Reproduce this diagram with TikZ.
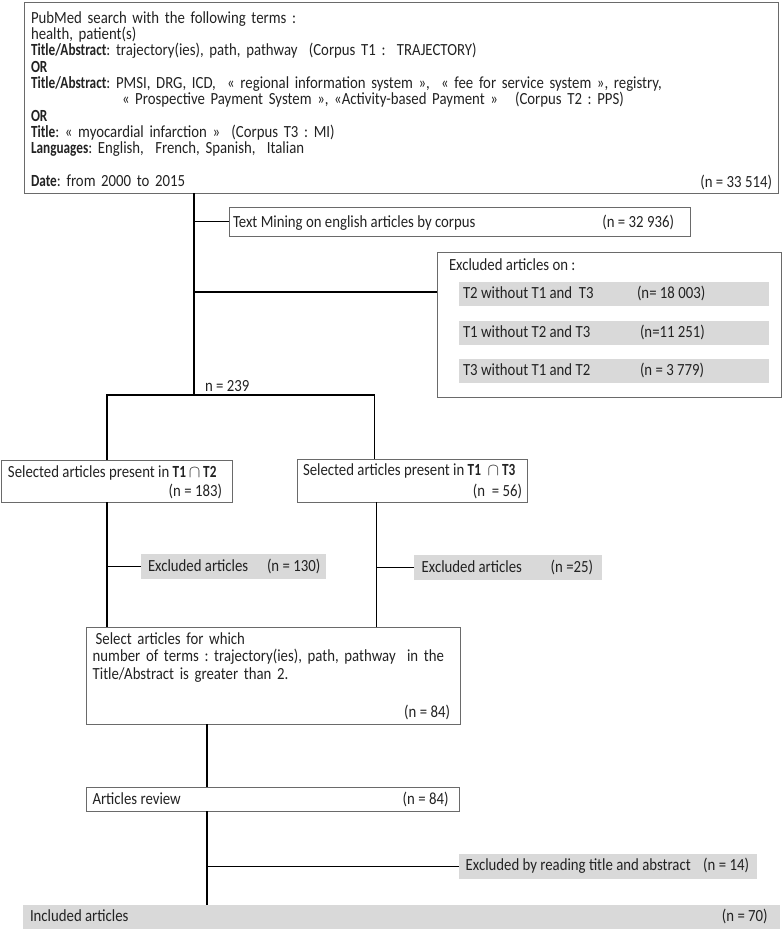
\documentclass[tikz,border=0pt]{standalone}
\usepackage{fontspec}
\setmainfont{Carlito}[FakeStretch=0.87, BoldFeatures={FakeStretch=0.78}]
\definecolor{bordergray}{HTML}{6A6A6A}
\definecolor{bargray}{HTML}{D9D9D9}
\definecolor{ink}{HTML}{222222}
\newcommand{\fs}{\fontsize{17}{16.35}\selectfont\frenchspacing}
\begin{document}
\begin{tikzpicture}[x=1pt,y=-1pt,
  box/.style={draw=bordergray, line width=0.9pt, inner sep=0pt, outer sep=0pt, anchor=north west},
  bar/.style={fill=bargray, inner sep=0pt, outer sep=0pt, anchor=north west},
  lt/.style={inner sep=0pt, outer sep=0pt, anchor=base west, font=\fs, text=ink},
  rt/.style={inner sep=0pt, outer sep=0pt, anchor=base east, font=\fs, text=ink},
  conn/.style={line width=1.3pt, draw=black}]
\useasboundingbox (0,0) rectangle (784,932);

% top search box
\node[box, minimum width=754, minimum height=191] (top) at (24,2) {};
\node[lt, text width=740pt, align=left] (toptxt) at (31,23) {PubMed search with the following terms :\\
health, patient(s)\\
\textbf{Title/Abstract}: trajectory(ies), path, pathway~ (Corpus T1 :~ TRAJECTORY)\\
\textbf{OR}\\
\textbf{Title/Abstract}: PMSI, DRG, ICD,~ « regional information system »,~ « fee for service system », registry,\\
\hspace*{91pt}« Prospective Payment System », «Activity-based Payment »~~ (Corpus T2 : PPS)\\
\textbf{OR}\\
\textbf{Title}: « myocardial infarction »~ (Corpus T3 : MI)\\
\textbf{Languages}: English,~ French, Spanish,~ Italian\\
\mbox{}\\
\textbf{Date}: from 2000 to 2015};
\node[rt] (topn) at (772,187) {(n = 33 514)};

% text mining
\node[box, minimum width=461, minimum height=29] (tm) at (229,207) {};
\node[lt] (tmt) at (233,227.5) {Text Mining on english articles by corpus};
\node[rt] (tmn) at (674,227.5) {(n = 32 936)};

% excluded articles on
\node[box, minimum width=344, minimum height=145] (ex) at (437,252) {};
\node[lt] (ext) at (449,270.5) {Excluded articles on :};
\node[bar, minimum width=310, minimum height=24] (ex1) at (459,282) {};
\node[lt] (ex1t) at (463,298.5) {T2 without T1 and~ T3};
\node[lt] (ex1n) at (637,298.5) {(n= 18 003)};
\node[bar, minimum width=310, minimum height=24] (ex2) at (459,321) {};
\node[lt] (ex2t) at (463,337.5) {T1 without T2 and T3};
\node[lt] (ex2n) at (640,337.5) {(n=11 251)};
\node[bar, minimum width=310, minimum height=24] (ex3) at (459,358.5) {};
\node[lt] (ex3t) at (463,375) {T3 without T1 and T2};
\node[lt] (ex3n) at (640,375) {(n = 3 779)};

\node[lt] (n239) at (205,391) {n = 239};

% selected boxes
\node[box, minimum width=231, minimum height=42] (s12) at (1,460) {};
\node[lt] (s12t) at (8,477.5) {Selected articles present in \textbf{T1}\,$\cap$\,\textbf{T2}};
\node[rt] (s12n) at (222,496.5) {(n = 183)};
\node[box, minimum width=230, minimum height=43] (s13) at (297,459) {};
\node[lt] (s13t) at (303,475.5) {Selected articles present in \textbf{T1}~~$\cap$\,\textbf{T3}};
\node[rt] (s13n) at (522,496) {(n~ = 56)};

% excluded articles bars
\node[bar, minimum width=185, minimum height=25] (exl) at (141,554) {};
\node[lt] (exlt) at (148,571) {Excluded articles};
\node[lt] (exln) at (267,571) {(n = 130)};
\node[bar, minimum width=188, minimum height=25] (exr) at (414,555) {};
\node[lt] (exrt) at (421.7,572) {Excluded articles};
\node[lt] (exrn) at (550.7,572) {(n =25)};

% select box
\node[box, minimum width=374, minimum height=97] (sel) at (86,627) {};
\node[lt, text width=360pt, align=left, font=\fontsize{17}{17.8}\selectfont\frenchspacing] (selt) at (92.7,644) {\hspace*{3pt}Select articles for which\\
number of terms : trajectory(ies), path, pathway~ in the\\
Title/Abstract is greater than 2.};
\node[rt] (seln) at (450,717) {(n = 84)};

% articles review
\node[box, minimum width=373, minimum height=24] (ar) at (86,787) {};
\node[lt] (art) at (92.5,804) {Articles review};
\node[rt] (arn) at (448.5,804) {(n = 84)};

% excluded by reading
\node[bar, minimum width=298, minimum height=24.5] (er) at (459,854) {};
\node[lt] (ert) at (465.7,870.5) {Excluded by reading title and abstract};
\node[rt] (ern) at (749,870.5) {(n = 14)};

% included
\node[bar, minimum width=757, minimum height=23.5] (inc) at (23,905) {};
\node[lt] (inct) at (30,921) {Included articles};
\node[rt] (incn) at (767.7,921) {(n = 70)};

% connectors
\coordinate (j) at (194,395);
\coordinate (jl) at (107,395);
\coordinate (jr) at (374.5,395);
\coordinate (xr2) at (376.5,0);
\coordinate (xb) at (207,0);
\path (ex.north west) ++(0,40) coordinate (exin);
\draw[conn] (top.south -| j) -- (j);
\draw[conn] (tm.west) -- (tm.west -| j);
\draw[conn] (exin) -- (exin -| j);
\draw[conn] (s12.north -| jl) -- (jl) -- (jr) -- (s13.north -| jr);
\draw[conn] (s12.south -| jl) -- (sel.north -| jl);
\draw[conn] (s13.south -| xr2) -- (sel.north -| xr2);
\draw[conn] (exl.west) -- (exl.west -| jl);
\draw[conn] (exr.west) -- (exr.west -| xr2);
\draw[conn] (sel.south -| xb) -- (ar.north -| xb);
\draw[conn] (ar.south -| xb) -- (inc.north -| xb);
\draw[conn] (er.west) -- (er.west -| xb);
\end{tikzpicture}
\end{document}
